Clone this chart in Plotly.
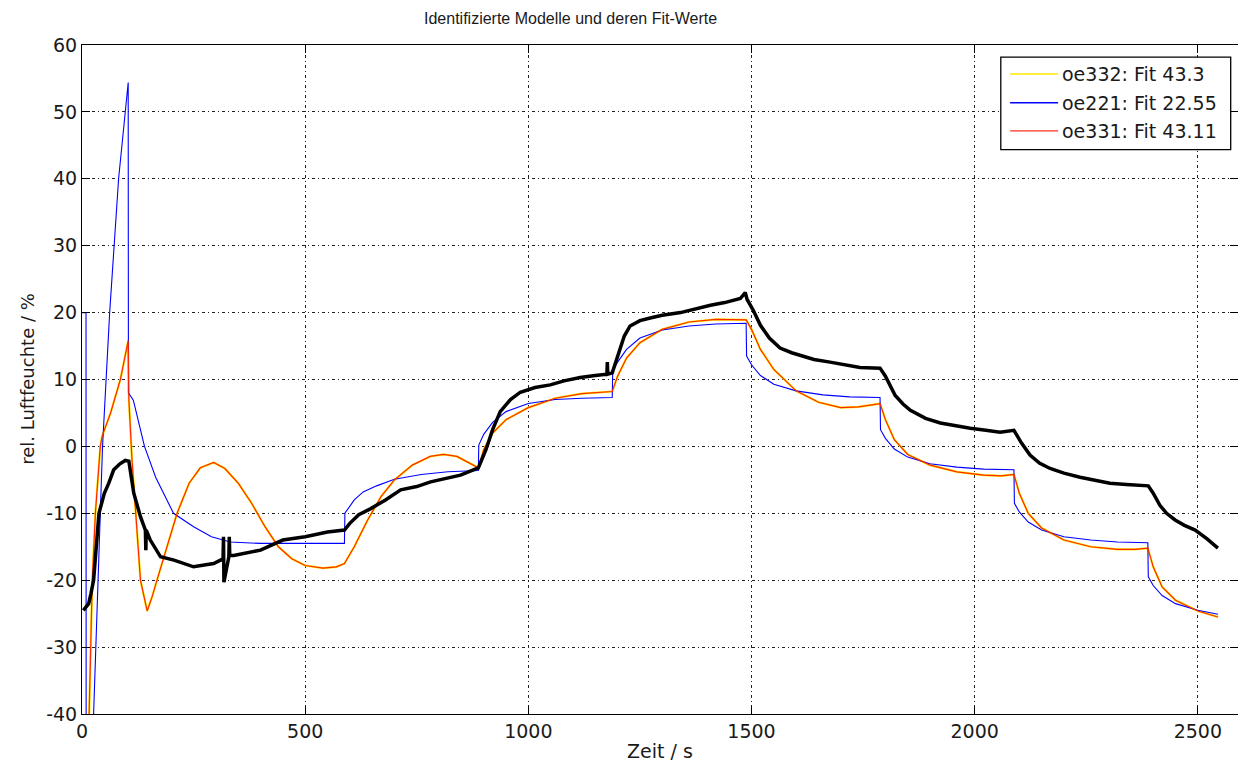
import plotly.graph_objects as go

# ---------------- data ----------------
blue_t = [0, 9, 9.5, 26, 46, 62, 82, 103.5, 104, 115, 140, 165, 205, 250, 290, 332, 400, 500, 588,
          589, 610, 630, 660, 700, 760, 820, 888,
          889, 900, 920, 950, 1000, 1060, 1120, 1188,
          1189, 1200, 1220, 1250, 1300, 1360, 1420, 1488,
          1489, 1500, 1520, 1550, 1600, 1660, 1720, 1788,
          1789, 1800, 1820, 1850, 1900, 1960, 2020, 2088,
          2089, 2100, 2120, 2150, 2200, 2260, 2320, 2388,
          2389, 2400, 2420, 2450, 2500, 2545]
blue_v = [20, 20, -80, -40, 0, 20, 40, 54.4, 8, 6.9, 0, -4.6, -10, -12, -13.5, -14.3, -14.5, -14.5, -14.5,
          -10, -8.0, -6.8, -5.9, -4.9, -4.2, -3.8, -3.6,
          0.2, 1.8, 3.6, 5.2, 6.4, 7.0, 7.2, 7.3,
          11.2, 12.6, 14.5, 16.2, 17.4, 18.0, 18.3, 18.4,
          13.5, 12.2, 10.6, 9.3, 8.3, 7.7, 7.4, 7.3,
          2.5, 1.2, -0.4, -1.6, -2.6, -3.1, -3.4, -3.5,
          -8.5, -9.8, -11.3, -12.5, -13.5, -14.0, -14.3, -14.4,
          -19.5, -20.8, -22.3, -23.5, -24.5, -25.1]

red_t = [9, 16, 23, 30, 41, 45, 64, 86, 103.5, 105, 112, 120, 131, 146, 157, 168, 190, 213, 240, 265,
         295, 320, 350, 380, 410, 440, 470, 500, 540, 570, 588,
         610, 640, 670, 700, 740, 780, 810, 840, 870, 888,
         900, 920, 950, 1000, 1060, 1120, 1188,
         1200, 1220, 1250, 1300, 1360, 1420, 1488,
         1500, 1520, 1550, 1600, 1650, 1700, 1740, 1788,
         1800, 1820, 1850, 1900, 1960, 2020, 2060, 2088,
         2100, 2120, 2150, 2200, 2260, 2320, 2360, 2388,
         2400, 2420, 2450, 2500, 2545]
red_v = [-80, -40, -20, -10, 0, 1.5, 5, 10, 15.8, 7, -2, -10, -20, -24.6, -22.5, -20, -15, -10, -5.5, -3.2,
         -2.4, -3.3, -5.5, -8.5, -12, -15, -16.8, -17.8, -18.2, -18, -17.5,
         -15, -11, -7.5, -5, -2.8, -1.5, -1.2, -1.5, -2.5, -3.2,
         -0.5, 2, 4, 5.8, 7.2, 7.9, 8.2,
         10.5, 13.2, 15.5, 17.5, 18.6, 19.0, 18.9,
         17.5, 14.5, 11.5, 8.3, 6.6, 5.8, 5.9, 6.4,
         4, 1, -1.2, -2.8, -3.8, -4.3, -4.4, -4.2,
         -7, -10, -12.2, -14, -15, -15.4, -15.4, -15.2,
         -18, -21, -23, -24.6, -25.5]

# oe332 lies practically on top of oe331
yellow_t = list(red_t)
yellow_v = list(red_v)

meas_t = [3, 8, 15, 20, 26, 38, 50, 60, 71, 85, 97, 105, 116, 131, 142, 143, 144, 153, 176, 206, 250,
          295, 316, 317, 318, 329, 330, 331, 340, 377, 400, 450, 500, 550, 588,
          600, 620, 647, 680, 714, 750, 781, 815, 848, 888,
          905, 920, 937, 960, 982, 1015, 1049, 1080, 1116, 1150, 1176, 1177, 1178, 1188,
          1200, 1215, 1228, 1250, 1273, 1300, 1341, 1375, 1408, 1440, 1475, 1486, 1490,
          1505, 1520, 1540, 1564, 1590, 1609, 1640, 1676, 1710, 1743, 1788,
          1800, 1822, 1840, 1856, 1890, 1923, 1960, 1990, 2025, 2057, 2088,
          2105, 2124, 2145, 2169, 2200, 2236, 2270, 2303, 2340, 2371, 2389,
          2400, 2415, 2430, 2449, 2470, 2494, 2520, 2545]
meas_v = [-24.5, -24, -23.5, -22, -20, -10, -7, -5.5, -3.5, -2.6, -2.1, -2.2, -7, -10.5, -12.5, -15.5, -12.5, -14, -16.5, -17, -18,
          -17.5, -16.8, -13.5, -20.3, -16.5, -13.5, -16.3, -16.3, -15.8, -15.5, -14, -13.5, -12.8, -12.5,
          -11.5, -10.2, -9.3, -8, -6.5, -6, -5.3, -4.8, -4.3, -3.2,
          -0.5, 2.5, 5.2, 7, 8.1, 8.8, 9.2, 9.8, 10.3, 10.6, 10.8, 12.6, 10.8, 11,
          13.5, 16.5, 18, 18.8, 19.2, 19.6, 20, 20.6, 21.1, 21.5, 22.1, 23, 22,
          20.2, 18.1, 16.2, 14.7, 14, 13.6, 13, 12.6, 12.2, 11.8, 11.7,
          10.5, 7.6, 6.3, 5.4, 4.2, 3.5, 3.0, 2.7, 2.4, 2.1, 2.4,
          0.5, -1.3, -2.5, -3.3, -4.0, -4.6, -5.0, -5.5, -5.7, -5.8, -5.9,
          -7, -8.8, -10, -11, -11.8, -12.5, -13.8, -15.2]

legend_names = ["oe332: Fit 43.3", "oe221: Fit 22.55", "oe331: Fit 43.11"]
legend_colors = ["#FFE800", "#0000FF", "#FF3020"]
x_ticks = [0, 500, 1000, 1500, 2000, 2500]
y_ticks = [-40, -30, -20, -10, 0, 10, 20, 30, 40, 50, 60]

# ---------------- figure ----------------
W, H = 1238, 765
ML, MT, MB = 81.5, 44.5, 51
PW, PH = W - ML, H - MT - MB


def px_x(px):
    return (px - ML) / PW


def px_y(py):
    return 1 - (py - MT) / PH


fig = go.Figure()
fig.add_trace(go.Scatter(x=yellow_t, y=yellow_v, mode="lines", name=legend_names[0],
                         line=dict(color="#FFE800", width=2.2), showlegend=False))
fig.add_trace(go.Scatter(x=blue_t, y=blue_v, mode="lines", name=legend_names[1],
                         line=dict(color="#0000FF", width=1.1), showlegend=False))
fig.add_trace(go.Scatter(x=red_t, y=red_v, mode="lines", name=legend_names[2],
                         line=dict(color="#FF2A00", width=1.2), showlegend=False))
fig.add_trace(go.Scatter(x=meas_t, y=meas_v, mode="lines", showlegend=False,
                         line=dict(color="#000000", width=3.5)))

tick_font = dict(family="DejaVu Sans, sans-serif", size=19, color="#1a1a1a")
axis_common = dict(showline=True, linecolor="#000000", linewidth=1, mirror="ticks",
                   ticks="inside", ticklen=8, tickcolor="#000000",
                   showgrid=True, gridcolor="#202020", gridwidth=1, griddash="3px,3px,1px,3px",
                   zeroline=False, tickfont=tick_font)

shapes = []
annotations = [
    dict(text="Identifizierte Modelle und deren Fit-Werte", xref="paper", yref="paper",
         x=px_x(570), y=px_y(18), xanchor="center", yanchor="middle", showarrow=False,
         font=dict(family="Liberation Sans, Arial, sans-serif", size=16, color="#1a1a1a")),
    dict(text="Zeit / s", xref="paper", yref="paper", x=px_x(660), y=px_y(751),
         xanchor="center", yanchor="middle", showarrow=False,
         font=dict(family="DejaVu Sans, sans-serif", size=19, color="#1a1a1a")),
    dict(text="rel. Luftfeuchte / %", xref="paper", yref="paper", x=px_x(27), y=px_y(379),
         xanchor="center", yanchor="middle", showarrow=False, textangle=-90,
         font=dict(family="DejaVu Sans, sans-serif", size=18, color="#1a1a1a")),
]

# legend box drawn by hand (Matlab-style)
shapes.append(dict(type="rect", xref="paper", yref="paper",
                   x0=px_x(1000.7), x1=px_x(1230.7), y0=px_y(149.3), y1=px_y(56.7),
                   line=dict(color="#000000", width=1.3), fillcolor="white", layer="above"))
row_y = [73.5, 102.3, 130.5]
for name, col, ry in zip(legend_names, legend_colors, row_y):
    shapes.append(dict(type="line", xref="paper", yref="paper",
                       x0=px_x(1010), x1=px_x(1058), y0=px_y(ry), y1=px_y(ry),
                       line=dict(color=col, width=1.3), layer="above"))
    annotations.append(dict(text=name, xref="paper", yref="paper", x=px_x(1060), y=px_y(ry),
                            xanchor="left", yanchor="middle", showarrow=False,
                            font=dict(family="DejaVu Sans, sans-serif", size=19, color="#1a1a1a")))

fig.update_layout(
    width=W, height=H,
    margin=dict(l=ML, r=0, t=MT, b=MB),
    paper_bgcolor="white", plot_bgcolor="white",
    xaxis=dict(range=[0, 2590], tickvals=x_ticks, ticktext=[str(v) for v in x_ticks], **axis_common),
    yaxis=dict(range=[-40, 60], tickvals=y_ticks, ticktext=[str(v) for v in y_ticks], **axis_common),
    showlegend=False,
    shapes=shapes,
    annotations=annotations,
)

fig.write_html("out.html")
